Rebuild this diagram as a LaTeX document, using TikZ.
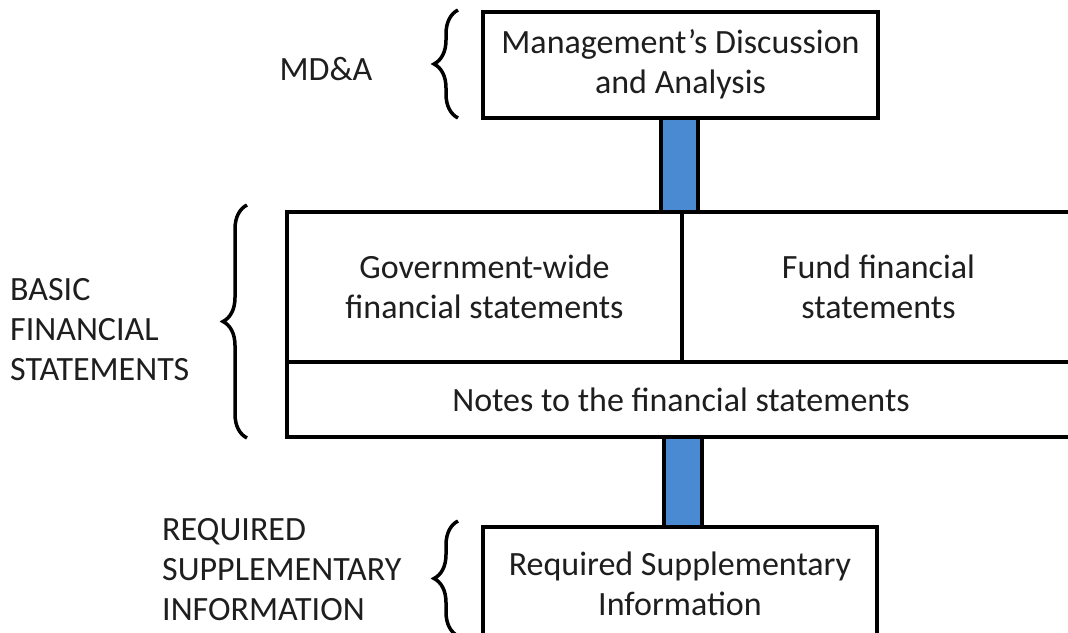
\documentclass[tikz,border=0pt]{standalone}
\usepackage{fontspec}
\setmainfont{Carlito}
\usetikzlibrary{calc,decorations.pathreplacing}
\definecolor{barblue}{RGB}{74,138,210}
\definecolor{txt}{RGB}{30,30,30}
\tikzset{
  box/.style={draw=black, line width=4pt, fill=white, outer sep=0pt, inner sep=0pt,
    align=center, text=txt, font=\fontsize{34}{40}\selectfont},
  bar/.style={draw=black, line width=4pt, fill=barblue},
  lab/.style={align=left, text=txt, font=\fontsize{34}{40}\selectfont, inner sep=0pt},
  curly/.style={draw=black, line width=3.5pt, decorate, decoration={brace, amplitude=24pt, aspect=0.5}}
}
\begin{document}
\begin{tikzpicture}[x=1pt,y=-1pt]
\useasboundingbox (0,0) rectangle (1068,632);
\clip (0,0) rectangle (1068,632);
% boxes
\node[box, minimum width=395pt, minimum height=106pt] (md) at (680.5,64.5) {Management’s Discussion\\and Analysis};
\node[box, minimum width=395pt, minimum height=150pt] (gov) at (484.5,287) {Government-wide\\financial statements};
\node[box, minimum width=393pt, minimum height=150pt] (fund) at (878.5,287) {Fund financial\\statements};
\node[box, minimum width=788pt, minimum height=75pt] (notes) at (681,399.5) {Notes to the financial statements};
\node[box, minimum width=394pt, minimum height=113pt] (rsi) at (680,583.5) {Required Supplementary\\Information};
% connecting bars
\draw[bar] ($(md.south)+(-19.5,0)$) rectangle ($(gov.north east)+(16,0)$);
\draw[bar] ($(notes.south)+(-17,0)$) rectangle ($(rsi.north)+(22,0)$);
% labels
\node[lab] (lmd) at (326,69) {MD\&A};
\node[lab, anchor=west] (lbfs) at (10,330) {BASIC\\FINANCIAL\\STATEMENTS};
\node[lab, anchor=west] (lrsi) at (162,570) {REQUIRED\\SUPPLEMENTARY\\INFORMATION};
% braces
\coordinate (b1a) at (458,118);
\coordinate (b1b) at (458,10);
\coordinate (b2a) at (247,438);
\coordinate (b2b) at (247,205);
\coordinate (b3a) at (458,636);
\coordinate (b3b) at (458,521);
\draw[curly] (b1a) -- (b1b);
\draw[curly] (b2a) -- (b2b);
\draw[curly] (b3a) -- (b3b);
\end{tikzpicture}
\end{document}
